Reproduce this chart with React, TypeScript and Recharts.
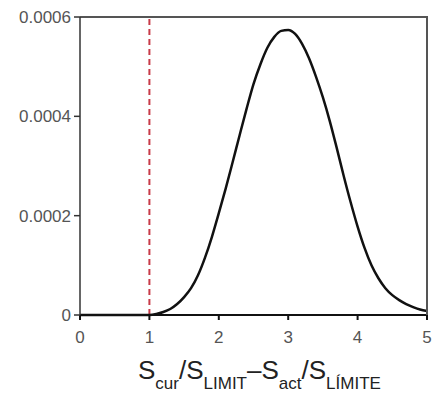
import { LineChart, Line, XAxis, YAxis, ReferenceLine } from 'recharts'

// ratio values along the x axis (Scur/SLIMIT - Sact/SLIMITE)
const xValues = [
  0, 0.5, 1.0, 1.1, 1.2, 1.3, 1.4, 1.5, 1.6, 1.7, 1.8, 1.9,
  2.0, 2.1, 2.2, 2.3, 2.4, 2.5, 2.6, 2.7, 2.8, 2.9,
  3.0, 3.1, 3.2, 3.3, 3.4, 3.5, 3.6, 3.7, 3.8, 3.9,
  4.0, 4.1, 4.2, 4.3, 4.4, 4.5, 4.6, 4.7, 4.8, 4.9, 5.0
]

// density (units of 1e-4)
const density = [
  0, 0, 0, 0.02, 0.06, 0.12, 0.22, 0.36, 0.54, 0.8, 1.15, 1.57,
  2.05, 2.55, 3.08, 3.62, 4.15, 4.65, 5.05, 5.38, 5.6, 5.72,
  5.74, 5.66, 5.46, 5.17, 4.8, 4.38, 3.9, 3.36, 2.8, 2.27,
  1.78, 1.35, 1.0, 0.74, 0.54, 0.4, 0.3, 0.22, 0.16, 0.11, 0.08
]

const xTicks = [0, 1, 2, 3, 4, 5]
const yTicks = [0, 0.0002, 0.0004, 0.0006]
const xMax = 5
const yMax = 0.0006
const threshold = 1

const data = xValues.map((x, i) => ({ x, y: density[i] * 1e-4 }))

const W = 435
const H = 405
const margin = { top: 17, right: 8, left: 0, bottom: 40 }

const tickStyle = { fontSize: 17, fill: '#555', fontFamily: 'Liberation Sans, Arial, sans-serif' }

// axis title plus the top/right edges of the frame (from the x axis box)
function AxisTitle(props: any) {
  const vb = props.viewBox || {}
  const left = vb.x || 80
  const right = left + (vb.width || 347)
  const bottom = vb.y || 315
  const top = margin.top
  const big = 26
  const small = 17
  return (
    <g>
      <path
        d={`M${left},${top} L${right},${top} L${right},${bottom}`}
        fill="none"
        stroke="#555"
        strokeWidth={2}
      />
      <text x={138} y={bottom + 64} fill="#222" fontFamily="Liberation Sans, Arial, sans-serif" fontSize={big}>
        <tspan>S</tspan>
        <tspan fontSize={small} dy={10}>cur</tspan>
        <tspan dy={-10}>/S</tspan>
        <tspan fontSize={small} dy={10}>LIMIT</tspan>
        <tspan dy={-10}>–S</tspan>
        <tspan fontSize={small} dy={10}>act</tspan>
        <tspan dy={-10}>/S</tspan>
        <tspan fontSize={small} dy={10}>LÍMITE</tspan>
      </text>
    </g>
  )
}

export default function App() {
  return (
    <div style={{ position: 'absolute', left: 0, top: 0, width: W, height: H, background: '#fff' }}>
      <LineChart width={W} height={H} data={data} margin={margin}>
        <XAxis
          dataKey="x"
          type="number"
          domain={[0, xMax]}
          ticks={xTicks}
          tickSize={5}
          tickMargin={11}
          height={50}
          stroke="#111"
          strokeWidth={2}
          tick={tickStyle}
          label={{ content: AxisTitle }}
        />
        <YAxis
          type="number"
          domain={[0, yMax]}
          ticks={yTicks}
          tickFormatter={(v: number) => (v === 0 ? '0' : v.toFixed(4))}
          width={80}
          tickSize={6}
          tickMargin={3}
          stroke="#333"
          strokeWidth={1.5}
          tick={tickStyle}
        />
        <ReferenceLine x={threshold} stroke="#c83a48" strokeWidth={2} strokeDasharray="6 4" />
        <Line
          type="monotone"
          dataKey="y"
          stroke="#111"
          strokeWidth={2.5}
          dot={false}
          isAnimationActive={false}
        />
      </LineChart>
    </div>
  )
}
